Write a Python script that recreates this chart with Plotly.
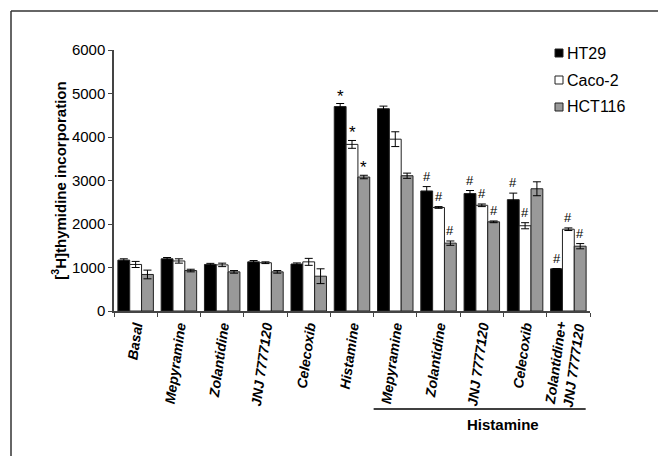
import plotly.graph_objects as go

categories = ["Basal", "Mepyramine", "Zolantidine", "JNJ 7777120", "Celecoxib",
              "Histamine", "Mepyramine", "Zolantidine", "JNJ 7777120", "Celecoxib",
              "Zolantidine+<br>JNJ 7777120"]
series_names = ["HT29", "Caco-2", "HCT116"]
ht29 = [1170, 1200, 1070, 1130, 1080, 4700, 4650, 2760, 2700, 2560, 970]
ht29_err = [30, 30, 25, 30, 25, 70, 60, 100, 70, 150, 0]
caco2 = [1070, 1150, 1060, 1110, 1130, 3830, 3950, 2380, 2430, 1960, 1880]
caco2_err = [70, 50, 40, 20, 80, 90, 170, 20, 30, 70, 30]
hct116 = [840, 930, 900, 900, 800, 3080, 3110, 1560, 2050, 2810, 1490]
hct116_err = [100, 30, 30, 30, 170, 40, 60, 50, 20, 160, 60]
ht29_mark = ["", "", "", "", "", "*", "", "#", "#", "#", "#"]
caco2_mark = ["", "", "", "", "", "*", "", "#", "#", "#", "#"]
hct116_mark = ["", "", "", "", "", "*", "", "#", "#", "", "#"]
y_ticks = [0, 1000, 2000, 3000, 4000, 5000, 6000]
group_label = "Histamine"

FONT = "Liberation Sans, Arial, sans-serif"
colors = ["#000000", "#ffffff", "#999999"]
vals = [ht29, caco2, hct116]
errs = [ht29_err, caco2_err, hct116_err]
marks = [ht29_mark, caco2_mark, hct116_mark]
x = list(range(len(categories)))
bargap = 0.18
bw = (1 - bargap) / 3

fig = go.Figure()
for i in range(3):
    fig.add_trace(go.Bar(
        x=x, y=vals[i], name=series_names[i],
        marker=dict(color=colors[i], line=dict(color="#222222", width=1)),
        error_y=dict(type="data", array=errs[i], color="#000000", thickness=1, width=4),
        showlegend=False,
    ))

def py(pix):
    return (311 - pix) / 261
def px(pix):
    return (pix - 114) / 476

annotations = []
for i in range(3):
    off = (i - 1) * bw
    for j in x:
        if marks[i][j]:
            sym = marks[i][j]
            annotations.append(dict(
                x=j + off, y=vals[i][j] + errs[i][j], xref="x", yref="y",
                text=sym, showarrow=False, yanchor="bottom",
                yshift=(-4 if sym == "*" else 1),
                font=dict(family=FONT, size=(17 if sym == "*" else 13), color="#000000"),
            ))

# Histamine group label and underline
annotations.append(dict(x=8.5, y=py(424), xref="x", yref="paper", text="<b>%s</b>" % group_label,
                        showarrow=False, yanchor="middle", font=dict(family=FONT, size=15, color="#000")))

# manual legend
legend_y = [53, 80, 107]
shapes = []
for i in range(3):
    shapes.append(dict(type="rect", xref="paper", yref="paper",
                       x0=px(555), x1=px(563), y0=py(legend_y[i] + 4), y1=py(legend_y[i] - 4),
                       fillcolor=colors[i], line=dict(color="#222222", width=1)))
    annotations.append(dict(x=px(565), y=py(legend_y[i]), xref="paper", yref="paper",
                            text=series_names[i], showarrow=False, xanchor="left", yanchor="middle",
                            font=dict(family=FONT, size=16, color="#000")))

shapes.append(dict(type="line", xref="x", yref="paper", x0=5.5, x1=10.4, y0=py(409), y1=py(409),
                   line=dict(color="#000", width=1.5)))
# outer frame (left and top edges)
shapes.append(dict(type="line", xref="paper", yref="paper", x0=px(11), x1=px(11), y0=py(11), y1=py(470),
                   line=dict(color="#333", width=1.5)))
shapes.append(dict(type="line", xref="paper", yref="paper", x0=px(11), x1=px(670), y0=py(11), y1=py(11),
                   line=dict(color="#333", width=1.5)))

fig.update_layout(
    width=658, height=456,
    margin=dict(l=114, r=68, t=50, b=145, autoexpand=False),
    paper_bgcolor="white", plot_bgcolor="white",
    barmode="group", bargap=bargap, bargroupgap=0,
    annotations=annotations, shapes=shapes,
    font=dict(family=FONT, color="#000"),
)
fig.update_xaxes(
    range=[-0.5, 10.5], tickmode="array", tickvals=x, ticktext=categories,
    ticks="", tickangle=-82, showgrid=False, zeroline=False, automargin=False,
    showline=True, linecolor="#444", linewidth=1.5,
    tickfont=dict(family=FONT, size=14, weight="bold", style="italic", color="#000"),
    minor=dict(tickmode="array", tickvals=[k - 0.5 for k in range(len(categories) + 1)],
               ticks="outside", ticklen=4, tickcolor="#444", tickwidth=1),
)
fig.update_yaxes(
    range=[0, 6000], tickmode="array", tickvals=y_ticks, ticks="outside", ticklen=4,
    tickcolor="#444", showgrid=False, zeroline=False, automargin=False,
    showline=True, linecolor="#444", linewidth=1.5,
    tickfont=dict(family=FONT, size=15, color="#000"),
    title=dict(text="<b>[<sup>3</sup>H]thymidine incorporation</b>", standoff=2,
               font=dict(family=FONT, size=15, color="#000")),
)
fig.write_html("out.html", config={"displayModeBar": False},
               post_script="document.body.style.margin='0';document.body.style.overflow='hidden';")
